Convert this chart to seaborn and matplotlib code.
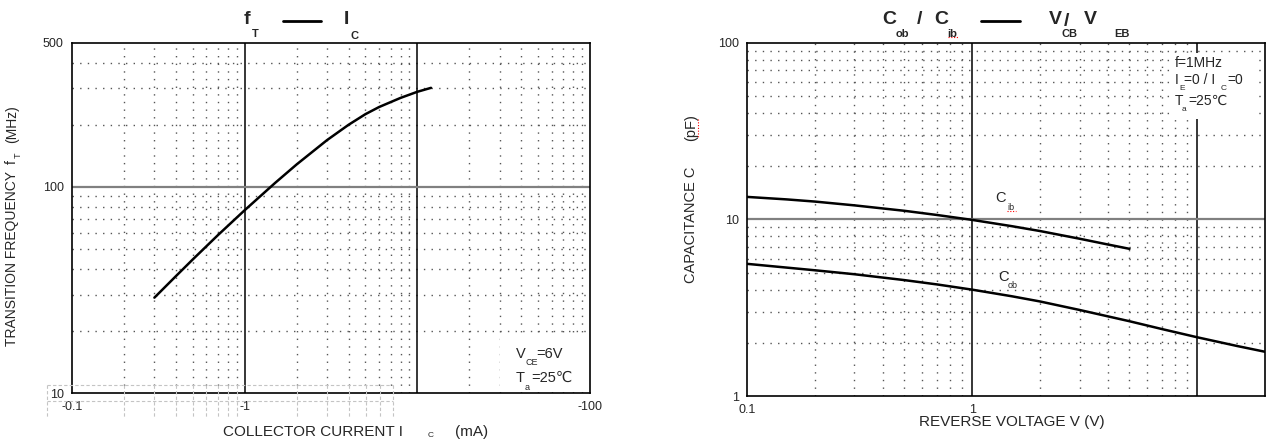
import numpy as np
import pandas as pd
import matplotlib
matplotlib.use("Agg")
import matplotlib.pyplot as plt
import seaborn as sns
from matplotlib.lines import Line2D
from matplotlib.patches import Rectangle
from matplotlib.ticker import NullFormatter

# ---------------- data ----------------
ic_ma = [0.3, 0.4, 0.5, 0.7, 1.0, 1.5, 2.0, 3.0, 4.0, 5.0, 6.0, 8.0, 10.0, 12.0]
ft_mhz = [29, 36.9, 44.4, 58.3, 77, 104.4, 128.4, 168.5, 200, 225, 243.7, 270, 289, 302]

v_ib = [0.1, 0.15, 0.2, 0.3, 0.5, 0.7, 1.0, 1.5, 2.0, 3.0, 4.0, 5.0]
c_ib = [13.4, 12.97, 12.61, 12.0, 11.18, 10.58, 9.93, 9.15, 8.59, 7.77, 7.21, 6.81]

v_ob = [0.1, 0.2, 0.3, 0.5, 0.7, 1.0, 1.5, 2.0, 3.0, 5.0, 7.0, 10.0, 15.0, 20.0]
c_ob = [5.6, 5.15, 4.89, 4.53, 4.28, 4.0, 3.67, 3.43, 3.07, 2.65, 2.39, 2.15, 1.92, 1.78]

left_xticks = [0.1, 1, 100]
left_xticklabels = ["-0.1", "-1", "-100"]
left_yticks = [10, 100, 500]
left_yticklabels = ["10", "100", "500"]
right_xticks = [0.1, 1]
right_xticklabels = ["0.1", "1"]
right_yticks = [1, 10, 100]
right_yticklabels = ["1", "10", "100"]

W, H = 1274, 440
sns.set_style("white")
plt.rcParams["font.family"] = ["Liberation Sans", "DejaVu Sans"]

fig = plt.figure(figsize=(W / 100, H / 100), dpi=100)
ax1 = fig.add_axes([72 / W, 1 - 393 / H, 518 / W, 350.3 / H])
ax2 = fig.add_axes([747 / W, 1 - 396 / H, 518 / W, 353.3 / H])


def ftext(x, y, s, size=11, weight="normal", ha="left", va="center", **kw):
    return fig.text(x / W, 1 - y / H, s, fontsize=size, fontweight=weight,
                    ha=ha, va=va, **kw)


def fline(x0, x1, y0, y1, **kw):
    fig.add_artist(Line2D([x0 / W, x1 / W], [1 - y0 / H, 1 - y1 / H],
                          transform=fig.transFigure, **kw))


dot = dict(ls=(0, (1, 4.5)), color="#555555", lw=1.0, zorder=1)


def style_axes(ax, xlim, ylim, xt, xtl, yt, ytl, xdec, ydec):
    ax.set_xscale("log")
    ax.set_yscale("log")
    ax.set_xlim(*xlim)
    ax.set_ylim(*ylim)
    ax.set_xticks(xt)
    ax.set_xticklabels(xtl)
    ax.set_yticks(yt)
    ax.set_yticklabels(ytl)
    ax.set_xticks([k * d for d in xdec for k in range(2, 10) if k * d < xlim[1]], minor=True)
    ax.set_yticks([k * d for d in ydec for k in range(2, 10) if k * d < ylim[1]], minor=True)
    ax.xaxis.set_minor_formatter(NullFormatter())
    ax.yaxis.set_minor_formatter(NullFormatter())
    ax.tick_params(which="both", length=0, labelsize=9, pad=6)
    ax.grid(False)
    for x in ax.get_xticks(minor=True):
        ax.axvline(x, **dot)
    for y in ax.get_yticks(minor=True):
        ax.axhline(y, **dot)
    for s in ax.spines.values():
        s.set_color("black")
        s.set_linewidth(1.2)
        s.set_zorder(6)
    ax.set_xlabel("")
    ax.set_ylabel("")


# ---------------- left chart ----------------
df1 = pd.DataFrame({"ic": ic_ma, "ft": ft_mhz})
sns.lineplot(data=df1, x="ic", y="ft", ax=ax1, color="black", lw=1.8, zorder=4)
style_axes(ax1, (0.1, 100), (10, 500), left_xticks, left_xticklabels,
           left_yticks, left_yticklabels, [0.1, 1, 10], [10, 100])
ax1.axvline(1, color="black", lw=1.1, zorder=2)
ax1.axvline(10, color="black", lw=1.1, zorder=2)
ax1.axhline(100, color="#808080", lw=1.6, zorder=2)
ax1.add_patch(Rectangle((0.826, 0.004), 0.17, 0.155, transform=ax1.transAxes,
                        facecolor="white", edgecolor="none", zorder=3))

# artifact dashed box around the lower-left tick labels
dash = dict(color="#c4c4c4", lw=0.8, ls=(0, (3, 2)))
fline(47, 393, 385, 385, **dash)
fline(47, 393, 401, 401, **dash)
for xp in [47, 124, 154, 176, 193, 206, 218, 228, 237, 297, 327, 349, 366, 380, 393]:
    fline(xp, xp, 385, 418, **dash)

# left title
ftext(244, 20, "f", 14, "bold")
ftext(252, 34, "T", 8, "bold")
fline(283, 321, 21, 21, color="black", lw=2)
ftext(344, 20, "I", 14, "bold")
ftext(351, 36, "C", 8, "bold")

# left y label
ftext(12, 258, "TRANSITION FREQUENCY", 10, rotation=90, ha="center")
ftext(12, 162, "f", 10, rotation=90, ha="center")
ftext(18, 155, "T", 6.5, rotation=90, ha="center")
ftext(12, 124, "(MHz)", 10, rotation=90, ha="center")

# left x label
ftext(223, 432, "COLLECTOR CURRENT I", 11)
ftext(428, 435, "C", 6)
ftext(455, 432, "(mA)", 11)

# left annotation
ftext(516, 354, "V", 10.5)
ftext(526, 362, "CE", 6.5)
ftext(536, 354, "=6V", 10.5)
ftext(516, 378, "T", 10.5)
ftext(525, 387, "a", 6.5)
ftext(531, 378, "=25\u2103", 10.5)

# ---------------- right chart ----------------
df_ib = pd.DataFrame({"v": v_ib, "c": c_ib})
df_ob = pd.DataFrame({"v": v_ob, "c": c_ob})
sns.lineplot(data=df_ib, x="v", y="c", ax=ax2, color="black", lw=1.8, zorder=4)
sns.lineplot(data=df_ob, x="v", y="c", ax=ax2, color="black", lw=1.8, zorder=4)
style_axes(ax2, (0.1, 20), (1, 100), right_xticks, right_xticklabels,
           right_yticks, right_yticklabels, [0.1, 1], [1, 10])
ax2.axvline(1, color="black", lw=1.1, zorder=2)
ax2.axvline(10, color="black", lw=1.1, zorder=2)
ax2.axhline(10, color="#808080", lw=1.6, zorder=2)
ax2.add_patch(Rectangle((0.817, 0.785), 0.168, 0.185, transform=ax2.transAxes,
                        facecolor="white", edgecolor="none", zorder=3))

# right title
ftext(882, 20, "C", 14, "bold")
ftext(896, 34, "ob", 8, "bold")
ftext(917, 20, "/", 14, "bold")
ftext(934, 20, "C", 14, "bold")
ftext(947, 34, "ib", 8, "bold")
fline(948, 958, 37, 37, color="red", lw=0.8, ls=(0, (1, 1.5)))
fline(981, 1020, 21, 21, color="black", lw=2)
ftext(1049, 20, "V", 14, "bold")
ftext(1061, 34, "CB", 8, "bold")
ftext(1064, 22, "/", 14, "bold")
ftext(1084, 20, "V", 14, "bold")
ftext(1114, 34, "EB", 8, "bold")

# right y label
ftext(691, 225, "CAPACITANCE C", 10.5, rotation=90, ha="center")
ftext(691, 128, "(pF)", 10.5, rotation=90, ha="center")
fline(698, 698, 119, 138, color="red", lw=0.8, ls=(0, (1, 1.5)))

# right x label
ftext(1012, 422, "REVERSE VOLTAGE V (V)", 11, ha="center")

# right curve labels
ftext(995, 198, "C", 10.5)
ftext(1007, 207, "ib", 6.5)
fline(1007, 1016, 211, 211, color="red", lw=0.8, ls=(0, (1, 1.5)))
ftext(998, 277, "C", 10.5)
ftext(1008, 285, "ob", 6.5)

# right annotation
ftext(1175, 63, "f=1MHz", 10)
ftext(1175, 80, "I", 10)
ftext(1179, 88, "E", 6)
ftext(1184, 80, "=0 / I", 10)
ftext(1221, 88, "C", 6)
ftext(1227, 80, "=0", 10)
ftext(1175, 101, "T", 10)
ftext(1182, 109, "a", 6)
ftext(1188, 101, "=25\u2103", 10)

fig.savefig("out.png", dpi=100)
